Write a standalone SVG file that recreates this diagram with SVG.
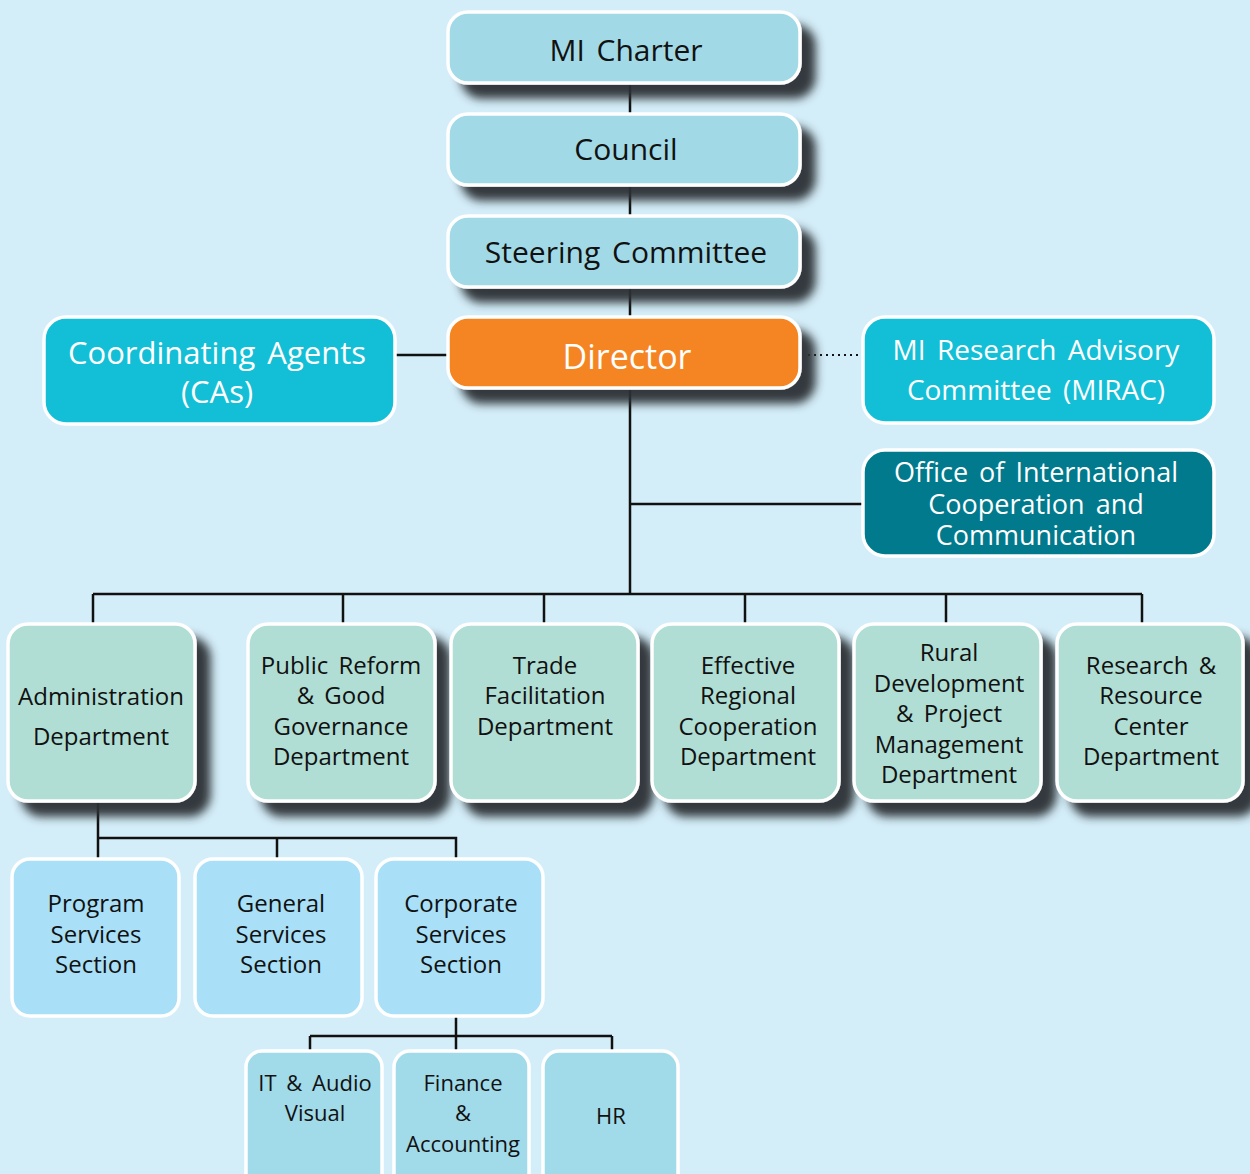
<svg xmlns="http://www.w3.org/2000/svg" width="1250" height="1174" viewBox="0 0 1250 1174">
<defs>
<filter id="sh" x="-20%" y="-20%" width="150%" height="160%">
<feGaussianBlur in="SourceAlpha" stdDeviation="5"/>
<feOffset dx="14" dy="14" result="b"/>
<feFlood flood-color="#2c3135" flood-opacity="0.95"/>
<feComposite in2="b" operator="in" result="s"/>
<feMerge><feMergeNode in="s"/><feMergeNode in="SourceGraphic"/></feMerge>
</filter>
<style>
text{font-family:"Open Sans","Noto Sans","DejaVu Sans",sans-serif;text-anchor:middle;fill:#111;word-spacing:4px}
.w{fill:#fff}
.box{stroke:#fff;stroke-width:3.5}
.top{fill:#a1dae6}
.dept{fill:#b0ded4}
.sec{fill:#a9e0f7}
.leaf{fill:#a1dae9}
.ln{stroke:#111;stroke-width:2.5;fill:none}
</style>
</defs>
<rect width="1250" height="1174" fill="#d4eef9"/>
<g id="connectors">
<path class="ln" d="M630 83V113M630 185V215M630 287V317M630 389V594M630 504H862M396 355H447M93 594H1142M93 594V624M343 594V624M544 594V624M745 594V624M946 594V624M1142 594V624M98 801V838H456V858M98 838V858M277 838V858M456 1017V1036M310 1036H612M310 1036V1050M612 1036V1050M456 1036V1050"/>
<path d="M808 355H862" stroke="#111" stroke-width="2" stroke-dasharray="2 4" fill="none"/>
</g>
<g id="n-charter"><rect class="box top" x="448" y="12" width="352" height="71" rx="20" filter="url(#sh)"/><text x="626" y="61" font-size="30">MI Charter</text></g>
<g id="n-council"><rect class="box top" x="448" y="114" width="352" height="71" rx="20" filter="url(#sh)"/><text x="626" y="160" font-size="30">Council</text></g>
<g id="n-steering"><rect class="box top" x="448" y="216" width="352" height="71" rx="20" filter="url(#sh)"/><text x="626" y="263" font-size="30">Steering Committee</text></g>
<g id="n-director"><rect class="box" fill="#f58522" x="448" y="317" width="352" height="71" rx="20" filter="url(#sh)"/><text class="w" x="627" y="369" font-size="34">Director</text></g>
<g id="n-cas"><rect class="box" fill="#13bfd6" x="44" y="317" width="351" height="107" rx="22"/><text class="w" x="217" y="364" font-size="31">Coordinating Agents</text><text class="w" x="217" y="403" font-size="31">(CAs)</text></g>
<g id="n-mirac"><rect class="box" fill="#13bfd6" x="863" y="317" width="351" height="106" rx="22"/><text class="w" x="1036" y="360" font-size="28">MI Research Advisory</text><text class="w" x="1036" y="400" font-size="28">Committee (MIRAC)</text></g>
<g id="n-office"><rect class="box" fill="#007a8c" x="863" y="450" width="351" height="106" rx="22"/><text class="w" x="1036" y="482" font-size="27">Office of International</text><text class="w" x="1036" y="514" font-size="27">Cooperation and</text><text class="w" x="1036" y="545" font-size="27">Communication</text></g>
<g id="n-admin"><rect class="box dept" x="8" y="624" width="187" height="177" rx="20" filter="url(#sh)"/><text x="101" y="705" font-size="24" word-spacing="0">Administration</text><text x="101" y="745" font-size="24">Department</text></g>
<g id="n-public"><rect class="box dept" x="248" y="624" width="187" height="177" rx="20" filter="url(#sh)"/><text x="341" y="674" font-size="24">Public Reform</text><text x="341" y="704" font-size="24">&amp; Good</text><text x="341" y="735" font-size="24">Governance</text><text x="341" y="765" font-size="24">Department</text></g>
<g id="n-trade"><rect class="box dept" x="451" y="624" width="187" height="177" rx="20" filter="url(#sh)"/><text x="545" y="674" font-size="24">Trade</text><text x="545" y="704" font-size="24">Facilitation</text><text x="545" y="735" font-size="24">Department</text></g>
<g id="n-effective"><rect class="box dept" x="652" y="624" width="187" height="177" rx="20" filter="url(#sh)"/><text x="748" y="674" font-size="24">Effective</text><text x="748" y="704" font-size="24">Regional</text><text x="748" y="735" font-size="24">Cooperation</text><text x="748" y="765" font-size="24">Department</text></g>
<g id="n-rural"><rect class="box dept" x="854" y="624" width="187" height="177" rx="20" filter="url(#sh)"/><text x="949" y="661" font-size="24">Rural</text><text x="949" y="692" font-size="24">Development</text><text x="949" y="722" font-size="24">&amp; Project</text><text x="949" y="753" font-size="24">Management</text><text x="949" y="783" font-size="24">Department</text></g>
<g id="n-research"><rect class="box dept" x="1057" y="624" width="186" height="177" rx="20" filter="url(#sh)"/><text x="1151" y="674" font-size="24">Research &amp;</text><text x="1151" y="704" font-size="24">Resource</text><text x="1151" y="735" font-size="24">Center</text><text x="1151" y="765" font-size="24">Department</text></g>
<g id="n-program"><rect class="box sec" x="12" y="859" width="167" height="157" rx="18"/><text x="96" y="912" font-size="24">Program</text><text x="96" y="943" font-size="24">Services</text><text x="96" y="973" font-size="24">Section</text></g>
<g id="n-general"><rect class="box sec" x="195" y="859" width="167" height="157" rx="18"/><text x="281" y="912" font-size="24">General</text><text x="281" y="943" font-size="24">Services</text><text x="281" y="973" font-size="24">Section</text></g>
<g id="n-corporate"><rect class="box sec" x="376" y="859" width="167" height="157" rx="18"/><text x="461" y="912" font-size="24">Corporate</text><text x="461" y="943" font-size="24">Services</text><text x="461" y="973" font-size="24">Section</text></g>
<g id="n-it"><rect class="box leaf" x="246" y="1051" width="136" height="140" rx="16"/><text x="315" y="1091" font-size="22">IT &amp; Audio</text><text x="315" y="1121" font-size="22">Visual</text></g>
<g id="n-finance"><rect class="box leaf" x="394" y="1051" width="135" height="140" rx="16"/><text x="463" y="1091" font-size="22">Finance</text><text x="463" y="1121" font-size="22">&amp;</text><text x="463" y="1152" font-size="22">Accounting</text></g>
<g id="n-hr"><rect class="box leaf" x="543" y="1051" width="135" height="140" rx="16"/><text x="611" y="1124" font-size="22">HR</text></g>
</svg>
